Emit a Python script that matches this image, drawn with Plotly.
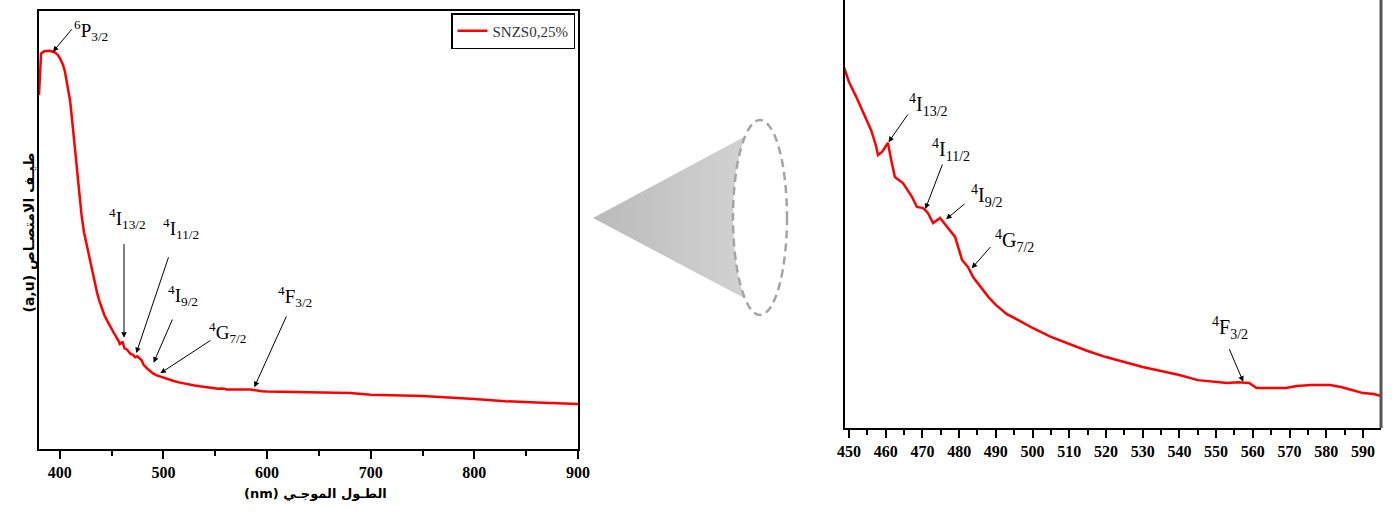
import numpy as np
import plotly.graph_objects as go

# ---------------- data ----------------
series_name = "SNZS0,25%"
wavelength = [380, 381, 382, 385, 390, 395, 398, 400, 403, 405, 408, 410, 412, 414,
              416.7, 419, 421, 423.4, 426, 428.3, 431, 433, 436, 438, 441, 443, 446,
              449, 450, 452, 454, 456, 457.3, 457.9, 459, 460.6, 461.5, 462.5, 464.7,
              467.2, 468.5, 470.2, 471.5, 472.9, 474.8, 476.7, 478.9, 480.8, 482.4,
              483.8, 486, 488, 490, 493, 496, 500, 505, 510, 515, 520, 525, 530, 535,
              540, 545, 550, 553, 556, 559, 561, 565, 569, 572, 576, 581, 584, 587,
              590, 593, 595, 600, 630, 660, 680, 700, 750, 800, 830, 860, 900]
intensity = [0.808, 0.870, 0.903, 0.908, 0.909, 0.906, 0.900, 0.893, 0.878, 0.862,
             0.825, 0.795, 0.750, 0.700, 0.625, 0.575, 0.535, 0.495, 0.465, 0.443,
             0.410, 0.386, 0.357, 0.340, 0.320, 0.306, 0.292,
             0.2777, 0.2723, 0.2656, 0.2585, 0.2509, 0.2442, 0.2397, 0.2411, 0.2451,
             0.2375, 0.2299, 0.2272, 0.2209, 0.2165, 0.2160, 0.2138, 0.2093, 0.2116,
             0.2075, 0.2031, 0.1928, 0.1897, 0.1852, 0.1803, 0.1762, 0.1727, 0.1686,
             0.1660, 0.1624, 0.1584, 0.1552, 0.1521, 0.1494, 0.1472, 0.1450, 0.1432,
             0.1414, 0.1391, 0.1382, 0.1378, 0.1382, 0.1378, 0.1356, 0.1356, 0.1356,
             0.1365, 0.1369, 0.1369, 0.1360, 0.1347, 0.1333, 0.1329, 0.1320,
             0.131, 0.130, 0.129, 0.128, 0.124, 0.121, 0.114, 0.109, 0.106, 0.103]

left_xticks = [400, 500, 600, 700, 800, 900]
right_xticks = list(range(450, 600, 10))

# transition labels (text, wavelength of the feature)
left_labels = ["<sup>6</sup>P<sub>3/2</sub>", "<sup>4</sup>I<sub>13/2</sub>",
               "<sup>4</sup>I<sub>11/2</sub>", "<sup>4</sup>I<sub>9/2</sub>",
               "<sup>4</sup>G<sub>7/2</sub>", "<sup>4</sup>F<sub>3/2</sub>"]
left_label_wl = [393.5, 462.0, 472.6, 487.1, 493.8, 586.5]
right_labels = ["<sup>4</sup>I<sub>13/2</sub>", "<sup>4</sup>I<sub>11/2</sub>",
                "<sup>4</sup>I<sub>9/2</sub>", "<sup>4</sup>G<sub>7/2</sub>",
                "<sup>4</sup>F<sub>3/2</sub>"]
right_label_wl = [460.6, 470.7, 475.6, 482.9, 557.5]

# ---------------- layout helpers ----------------
W, H = 1392, 521
RED = "#ff0000"
serif = "Liberation Serif, Times New Roman, serif"

fig = go.Figure()
fig.add_trace(go.Scatter(x=wavelength, y=intensity, mode="lines", name=series_name,
                         line=dict(color=RED, width=2.5), xaxis="x", yaxis="y"))
fig.add_trace(go.Scatter(x=wavelength, y=intensity, mode="lines", showlegend=False,
                         line=dict(color=RED, width=2.5), xaxis="x2", yaxis="y2"))

# decorative cone (magnifier) in a hidden pixel-space axis
cx, cy, rx, ry = 760, 217.5, 27, 97.5
t = np.radians(np.linspace(236.3, 123.7, 60))
arc_x = cx + rx * np.cos(t)
arc_y = cy + ry * np.sin(t)
cone_x = [593] + list(arc_x) + [593]
cone_y = [218] + list(arc_y) + [218]
fig.add_trace(go.Scatter(x=cone_x, y=cone_y, mode="lines", fill="toself",
                         fillgradient=dict(type="horizontal",
                                           colorscale=[[0, "#bababa"], [1, "#d2d2d2"]]),
                         line=dict(width=0, color="rgba(0,0,0,0)"),
                         showlegend=False, hoverinfo="skip", xaxis="x3", yaxis="y3"))

tickfont = dict(family=serif, size=16, color="black", weight="bold")

fig.update_layout(
    width=W, height=H, margin=dict(l=0, r=0, t=0, b=0, autoexpand=False),
    paper_bgcolor="white", plot_bgcolor="rgba(0,0,0,0)",
    showlegend=True,
    legend=dict(x=575 / W, xanchor="right", y=(H - 13) / H, yanchor="top",
                bordercolor="black", borderwidth=1.5, bgcolor="white",
                font=dict(family=serif, size=15, color="#333333"),
                itemwidth=30, tracegroupgap=0),
    xaxis=dict(domain=[39 / W, 578 / W], range=[380, 900], anchor="y", automargin=False,
               showline=True, linecolor="black", linewidth=1.5, mirror=True,
               ticks="outside", ticklen=8, tickwidth=1.5, tickcolor="black",
               tickvals=left_xticks, tickfont=tickfont,
               minor=dict(ticks="outside", ticklen=5, tickwidth=1.5, tickcolor="black",
                          dtick=50, tick0=400),
               showgrid=False, zeroline=False),
    yaxis=dict(domain=[(H - 449) / H, (H - 11) / H], range=[0, 1], anchor="x",
               automargin=False,
               showline=True, linecolor="black", linewidth=1.5, mirror=True,
               showticklabels=False, ticks="", showgrid=False, zeroline=False),
    xaxis2=dict(domain=[845 / W, 1381 / W], range=[448.91, 594.92], anchor="y2",
                automargin=False,
                showline=True, linecolor="black", linewidth=2,
                ticks="outside", ticklen=8, tickwidth=1.5, tickcolor="black",
                tickvals=right_xticks, tickfont=tickfont,
                minor=dict(ticks="outside", ticklen=5, tickwidth=1.5, tickcolor="black",
                           dtick=5, tick0=450),
                showgrid=False, zeroline=False),
    yaxis2=dict(domain=[(H - 428) / H, 1], range=[0.1177, 0.309], anchor="x2",
                automargin=False,
                showline=True, linecolor="black", linewidth=2,
                showticklabels=False, ticks="", showgrid=False, zeroline=False),
    xaxis3=dict(domain=[0, 1], range=[0, W], visible=False, anchor="y3",
                fixedrange=True, automargin=False),
    yaxis3=dict(domain=[0, 1], range=[H, 0], visible=False, anchor="x3",
                fixedrange=True, automargin=False),
)

# right border of zoom panel (grey)
fig.add_shape(type="line", xref="paper", yref="paper",
              x0=1381 / W, x1=1381 / W, y0=(H - 428) / H, y1=1,
              line=dict(color="#555555", width=3))
# dashed ellipse of the cone
fig.add_shape(type="circle", xref="x3", yref="y3", x0=cx - rx, x1=cx + rx,
              y0=cy - ry, y1=cy + ry,
              line=dict(color="#a4a4a4", width=2.5, dash="8px,5px"))

# ---------------- annotations ----------------
# (tail dx, tail dy, text dx, text dy, standoff) in pixels relative to feature point
left_geom = [(20, -24, 38, -21, 0), (0, -104, 3, -128, 9), (34, -101, 46, -128, 4),
             (23, -53, 33, -76, 9), (55, -36, 71, -43, 4), (34, -75, 42, -93, 3)]
right_geom = [(21, -30, 41, -38, 1), (18, -47, 26, -60, 1), (23, -19, 44, -26, 4),
              (22, -25, 45, -30, 3), (-15, -35, -14, -55, 1)]

def add_labels(labels, wls, geom, xr, yr, size):
    for lab, wl, (ax, ay, tx, ty, so) in zip(labels, wls, geom):
        yv = float(np.interp(wl, wavelength, intensity))
        fig.add_annotation(x=wl, y=yv, xref=xr, yref=yr, text="", showarrow=True,
                           ax=ax, ay=ay, arrowhead=2, arrowsize=1.1, arrowwidth=1,
                           arrowcolor="black", standoff=so)
        fig.add_annotation(x=wl, y=yv, xref=xr, yref=yr, text=lab, showarrow=False,
                           xshift=tx, yshift=-ty,
                           font=dict(family=serif, size=size, color="black"))

add_labels(left_labels, left_label_wl, left_geom, "x", "y", 19)
add_labels(right_labels, right_label_wl, right_geom, "x2", "y2", 20)

# axis titles (Arabic)
fig.add_annotation(x=18 / W, y=(H - 233) / H, xref="paper", yref="paper",
                   text="<b>(a,u) طيـف الامتصـاص</b>", textangle=-90, showarrow=False,
                   font=dict(family="DejaVu Sans, sans-serif", size=14, color="black"))
fig.add_annotation(x=242 / W, y=(H - 503) / H, xref="paper", yref="paper",
                   text="<b>(nm) الطـول الموجـي</b>", showarrow=False,
                   font=dict(family="DejaVu Sans, sans-serif", size=13, color="black"))

fig.write_html("out.html")
